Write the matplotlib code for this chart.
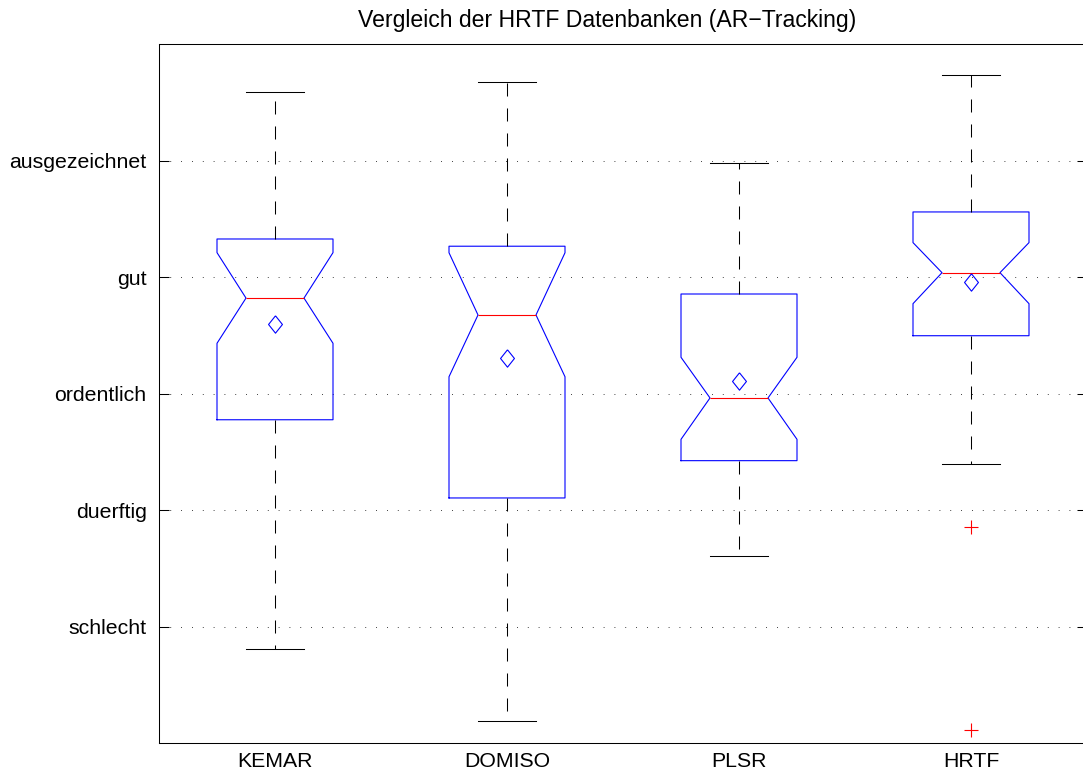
import matplotlib
matplotlib.use("Agg")
import matplotlib.pyplot as plt

# ratings 1..5 (schlecht .. ausgezeichnet)
labels = ["KEMAR", "DOMISO", "PLSR", "HRTF"]
med = [3.82, 3.675, 2.963, 4.038]
q1 = [2.776, 2.105, 2.425, 3.497]
q3 = [4.327, 4.265, 3.855, 4.559]
cilo = [3.432, 3.145, 2.608, 3.772]
cihi = [4.21, 4.209, 3.312, 4.296]
whislo = [0.809, 0.191, 1.607, 2.396]
whishi = [5.588, 5.674, 4.979, 5.734]
means = [3.598, 3.306, 3.111, 3.961]
fliers = [[], [], [], [1.856, 0.114]]

rating_ticks = [1, 2, 3, 4, 5]
rating_names = ["schlecht", "duerftig", "ordentlich", "gut", "ausgezeichnet"]

plt.rcParams['font.family'] = ['Liberation Sans', 'DejaVu Sans']

stats = []
for i in range(len(labels)):
    stats.append(dict(label=labels[i], med=med[i], q1=q1[i], q3=q3[i],
                      cilo=cilo[i], cihi=cihi[i], whislo=whislo[i],
                      whishi=whishi[i], mean=means[i], fliers=fliers[i]))

fig = plt.figure(figsize=(10.83, 7.73), dpi=100)
ax = fig.add_axes([159 / 1083, 29.7 / 773, 928 / 1083, 699.3 / 773])

diamond = [(0, 1), (0.8, 0), (0, -1), (-0.8, 0), (0, 1)]
ax.bxp(stats, widths=0.5, capwidths=0.25, shownotches=True, showmeans=True,
       boxprops=dict(color='blue', lw=0.8),
       medianprops=dict(color='red', lw=0.8),
       whiskerprops=dict(color='black', lw=0.75, linestyle=(0, (12.5, 11.5))),
       capprops=dict(color='black', lw=0.75),
       meanprops=dict(marker=diamond, markersize=12.5, markerfacecolor='none',
                      markeredgecolor='blue', markeredgewidth=0.8),
       flierprops=dict(marker='+', markersize=10, color='red',
                       markeredgecolor='red', markerfacecolor='red',
                       markeredgewidth=0.8, linestyle='none'))

ax.set_xlim(0.5, 4.5)
ax.set_ylim(0, 6)
ax.set_yticks(rating_ticks)
ax.set_yticklabels(rating_names)
ax.set_xticks([1, 2, 3, 4])
ax.set_xticklabels(labels)

ax.yaxis.grid(True, color='black', lw=0.6, linestyle=(0, (1, 12)))
ax.set_axisbelow(True)

ax.tick_params(axis='y', direction='in', length=7.2, width=0.75, right=True,
               labelsize=15.3, pad=9)
ax.tick_params(axis='x', length=0, labelsize=15.3, pad=6)
for s in ax.spines.values():
    s.set_linewidth(0.75)
# right border falls just outside the picture in the original
ax.spines['right'].set_visible(False)

ax.set_title("Vergleich der HRTF Datenbanken (AR\u2212Tracking)", fontsize=16.6,
             pad=12, x=0.483)

fig.savefig("out.png", dpi=100)
